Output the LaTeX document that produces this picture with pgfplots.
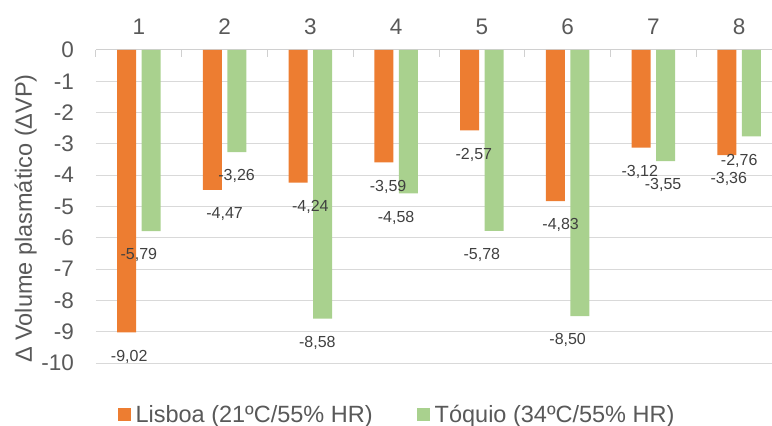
\documentclass[border=0pt]{standalone}
\usepackage{fontspec}
\setmainfont{Liberation Sans}
\usepackage{pgfplots}
\usepackage{pgfplotstable}
\pgfplotsset{compat=1.18}

\definecolor{lisboa}{HTML}{ED7D31}
\definecolor{toquio}{HTML}{A9D18E}
\definecolor{gridc}{HTML}{D9D9D9}
\definecolor{axisc}{HTML}{D0D0D0}
\definecolor{txt}{HTML}{595959}
\definecolor{lbl}{HTML}{404040}

% x: sujeito, y: variacao do volume plasmatico, dx: deslocamento do rotulo (bp)
\pgfplotstableread{
x y dx
1 -9.02 -9.7
2 -4.47 0
3 -4.24 0
4 -3.59 -8
5 -2.57 -8
6 -4.83 -7
7 -3.12 -13.6
8 -3.36 -10.4
}\lisboatab

\pgfplotstableread{
x y dx
1 -5.79 0
2 -3.26 12
3 -8.58 7
4 -4.58 0
5 -5.78 0
6 -8.50 0
7 -3.55 9.7
8 -2.76 0
}\toquiotab

\pgfplotsset{
  barlabel/.style={
    visualization depends on={\thisrow{dx} \as \dx},
    nodes near coords={\pgfmathprintnumber[fixed,fixed zerofill,precision=2,use comma,assume math mode=true]{\pgfplotspointmeta}},
    every node near coord/.append style={font=\fontsize{16bp}{19bp}\selectfont, text=lbl,
      inner sep=0pt, anchor=base, xshift=\dx bp, yshift=-28.7bp},
  },
}

\begin{document}
\begin{tikzpicture}
\useasboundingbox (-96bp,-63bp) rectangle (676bp,363bp);
\begin{axis}[
  at={(0,0)}, anchor=south west,
  scale only axis, width=676bp, height=313bp,
  xmin=0.5, xmax=8.383, ymin=-10, ymax=0,
  axis x line*=top, axis y line*=left,
  y axis line style={draw=none},
  x axis line style={draw=axisc, line width=1bp},
  tick align=inside,
  xtick={1,...,8}, minor xtick={0.5,1.5,...,8.5},
  major x tick style={draw=none},
  minor x tick style={draw=axisc, line width=1bp},
  minor tick length=7bp,
  ytick={-10,-9,...,0}, ytick style={draw=none},
  ymajorgrids, grid style={draw=gridc, line width=1bp},
  /pgf/number format/assume math mode=true,
  xticklabel style={font=\fontsize{22.5bp}{27bp}\selectfont, text=txt, inner sep=0pt, anchor=base, yshift=15bp},
  yticklabel style={font=\fontsize{22.5bp}{27bp}\selectfont, text=txt, inner sep=0pt, anchor=east, xshift=-22bp},
  ylabel={Δ Volume plasmático (ΔVP)},
  ylabel style={at={(axis description cs:-0.0947,0.4617)}, anchor=base, rotate=0,
    font=\fontsize{23.5bp}{28bp}\selectfont, text=txt, inner sep=0pt},
  legend style={at={(axis description cs:0.4438,-0.1645)}, anchor=center, draw=none, fill=none,
    font=\fontsize{23.5bp}{28bp}\selectfont, text=txt, inner sep=0pt, outer sep=0pt,
    nodes={inner sep=0pt},
    /tikz/every odd column/.append style={column sep=5bp},
    /tikz/every even column/.append style={column sep=44bp}},
  legend columns=2,
  legend image code/.code={\fill[#1] (0bp,-6.5bp) rectangle (13bp,6.5bp);},
]
\addplot[ybar, bar width=19bp, bar shift=-12.3bp, fill=lisboa, draw=none, barlabel]
  table[x=x, y=y] {\lisboatab};
\addlegendentry{Lisboa (21ºC/55\% HR)}
\addplot[ybar, bar width=19bp, bar shift=12.3bp, fill=toquio, draw=none, barlabel]
  table[x=x, y=y] {\toquiotab};
\addlegendentry{Tóquio (34ºC/55\% HR)}
\end{axis}
\end{tikzpicture}
\end{document}
